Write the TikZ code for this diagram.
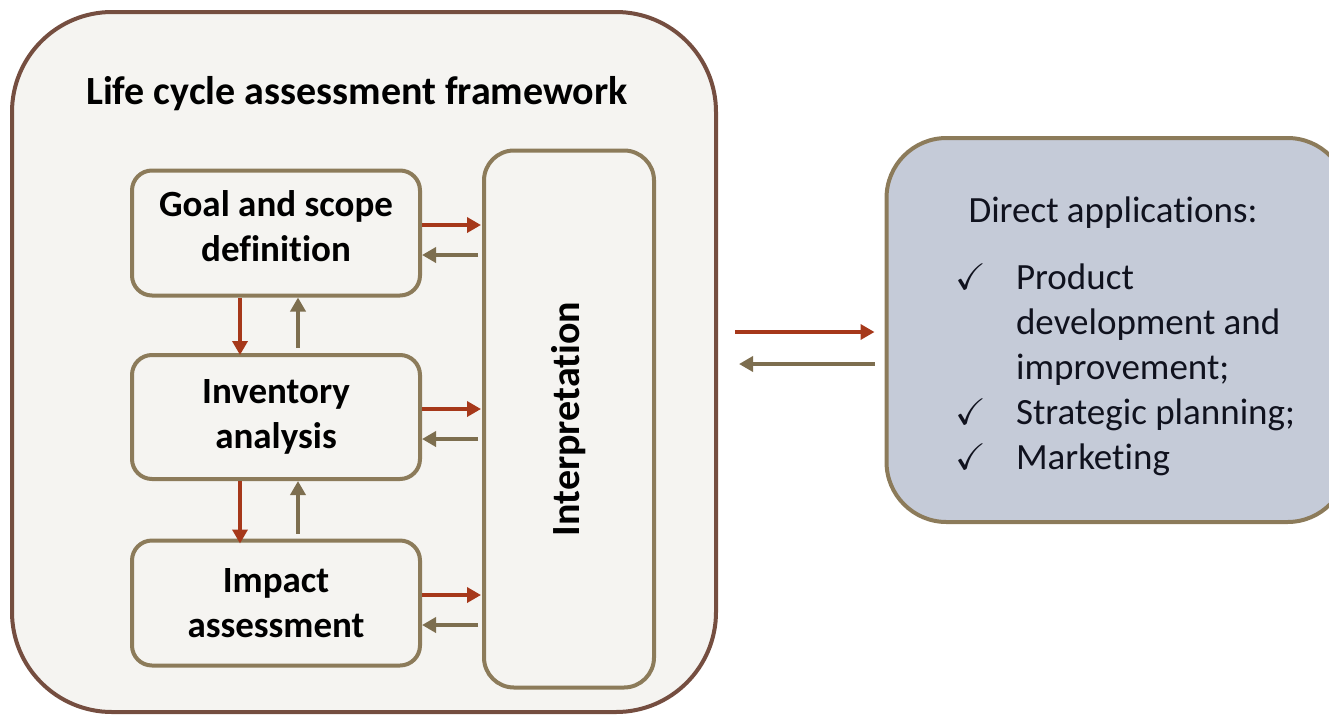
\documentclass[tikz,border=0pt]{standalone}
\usepackage{fontspec}
\usepackage{amssymb}
\setmainfont{Carlito}[Ligatures=NoCommon]
\usetikzlibrary{arrows.meta}

\definecolor{frameBrown}{HTML}{754E40}
\definecolor{panelFill}{HTML}{F5F4F1}
\definecolor{boxBorder}{HTML}{8C7B5A}
\definecolor{redArrow}{HTML}{A6381A}
\definecolor{oliveArrow}{HTML}{7D6E4F}
\definecolor{appsFill}{HTML}{C5CBD8}
\definecolor{appsText}{HTML}{10121E}

\begin{document}
\begin{tikzpicture}[
    x=1pt, y=-1pt,
    box/.style={draw=boxBorder, line width=4pt, rounded corners=20pt, fill=panelFill, align=center, font=\bfseries\fontsize{37}{45}\selectfont},
    stagebox/.style={box, minimum width=288pt, minimum height=125pt},
    fwd/.style={-{Triangle[length=14pt, width=15pt]}, line width=4.5pt, draw=redArrow},
    back/.style={-{Triangle[length=14pt, width=15pt]}, line width=4pt, draw=oliveArrow},
]
\useasboundingbox (0,0) rectangle (1329,715);
\clip (0,0) rectangle (1329,715);

% Framework panel
\node[draw=frameBrown, line width=4pt, rounded corners=100pt, fill=panelFill, minimum width=704pt, minimum height=700pt] (lca) at (364, 362) {};
\node[font=\bfseries\fontsize{40}{48}\selectfont] (title) at (357, 94) {Life cycle assessment framework};

% Stages
\node[stagebox, text depth=14pt] (goal) at (276, 233) {Goal and scope\\definition};
\node[stagebox, minimum height=124pt] (inv) at (276, 417) {Inventory\\analysis};
\node[stagebox] (imp) at (276, 603) {Impact\\assessment};

% Interpretation
\node[box, rounded corners=30pt, minimum width=170pt, minimum height=537pt] (interp) at (569, 419) {};
\node[rotate=90, font=\bfseries\fontsize{40}{48}\selectfont] (interpLabel) at (interp.center) {Interpretation};

% Stage <-> interpretation
\foreach \s in {goal, inv, imp} {
    \draw[fwd, shorten >=1pt] ([yshift=8pt]\s.east) -- ([yshift=8pt]\s.east -| interp.west);
    \draw[back, shorten <=4pt] ([yshift=-22pt]\s.east -| interp.west) -- ([yshift=-22pt]\s.east);
}

% Stage <-> stage
\draw[fwd, shorten >=-2pt] ([xshift=-36pt]goal.south) -- ([xshift=-36pt]goal.south |- inv.north);
\draw[back, shorten <=5pt] ([xshift=22pt]goal.south |- inv.north) -- ([xshift=22pt]goal.south);
\draw[fwd, shorten >=-5pt] ([xshift=-36pt]inv.south) -- ([xshift=-36pt]inv.south |- imp.north);
\draw[back, shorten <=5pt] ([xshift=22pt]inv.south |- imp.north) -- ([xshift=22pt]inv.south);

% Direct applications
\node[draw=boxBorder, line width=4pt, rounded corners=60pt, fill=appsFill, minimum width=461pt, minimum height=384pt] (apps) at (1117, 330) {};
\node[font=\fontsize{37}{45}\selectfont, text=appsText] (appsTitle) at (1113, 213) {Direct applications:};
\node[anchor=north west, inner sep=0pt, font=\fontsize{37}{45}\selectfont, text=appsText] (appsList) at (955, 258) {%
    \begin{tabular}{@{}l@{\hspace{30pt}}l@{}}
    $\checkmark$ & Product\\
                 & development and\\
                 & improvement;\\
    $\checkmark$ & Strategic planning;\\
    $\checkmark$ & Marketing
    \end{tabular}};

% Framework <-> applications
\draw[fwd, shorten <=17pt, shorten >=10pt] ([yshift=30pt]lca.east) -- ([yshift=30pt]lca.east -| apps.west);
\draw[back, shorten <=10pt, shorten >=21pt] ([yshift=-2pt]lca.east -| apps.west) -- ([yshift=-2pt]lca.east);

\end{tikzpicture}
\end{document}
